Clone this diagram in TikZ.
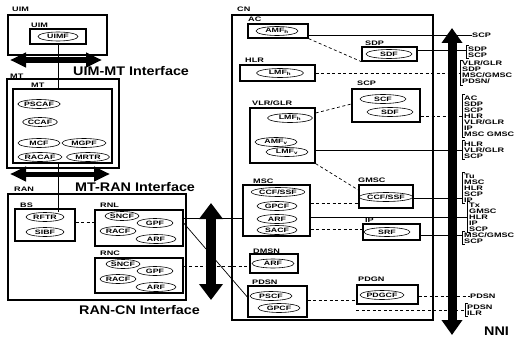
\documentclass[tikz,border=0pt]{standalone}
\usepackage{fontspec}
\newfontfamily\labf[FakeStretch=1.4]{Liberation Sans}
\newfontfamily\ifacef[FakeStretch=1.15]{Liberation Sans}
\usetikzlibrary{shapes.geometric,arrows.meta}
\newcommand\brk[1]{\draw[conn] ([xshift=3pt]#1.north west) -- (#1.north west) -- (#1.south west) -- ([xshift=3pt]#1.south west);}
\begin{document}
\begin{tikzpicture}[x=1pt,y=-1pt,
  lbl/.style={font=\labf\bfseries\fontsize{6.5}{6}\selectfont, inner sep=0pt, anchor=west},
  brl/.style={lbl, align=left, inner xsep=2pt, inner ysep=1pt},
  fn/.style={ellipse, draw, line width=0.6pt, minimum height=9pt, inner sep=0pt, font=\labf\bfseries\fontsize{6.3}{6}\selectfont},
  box/.style={draw, line width=1.3pt, inner sep=0pt, rectangle},
  outer/.style={draw, line width=2.5pt, inner sep=0pt, rectangle},
  conn/.style={line width=0.7pt},
  dconn/.style={line width=0.7pt, dash pattern=on 3pt off 2.5pt},
  iface/.style={font=\ifacef\bfseries\fontsize{12.5}{12}\selectfont, inner sep=0pt, anchor=west},
  harrow/.style={line width=5pt, {Triangle[length=16pt,width=14pt]}-{Triangle[length=16pt,width=14pt]}},
  varrow/.style={line width=10pt, {Triangle[length=16pt,width=23pt]}-{Triangle[length=16pt,width=23pt]}}
]
\fill[white] (0,0) rectangle (516,337);
\useasboundingbox (0,0) rectangle (516,337);

% ---------- UIM ----------
\node[outer, minimum width=99pt, minimum height=40pt] (UIMo) at (57.5,35) {};
\node[box, minimum width=56pt, minimum height=15pt] (UIMi) at (58,36.5) {};
\node[fn, minimum width=40pt] (UIMF) at (58,36.5) {UIMF};
\node[lbl] (lUIMo) at (12,9) {UIM};
\node[lbl] (lUIMi) at (31,25) {UIM};

% ---------- MT ----------
\node[outer, minimum width=112pt, minimum height=89pt] (MTo) at (63,123.5) {};
\node[box, minimum width=99pt, minimum height=74pt] (MTi) at (62.5,126) {};
\node[lbl] (lMTo) at (10,76) {MT};
\node[lbl] (lMTi) at (31,85) {MT};
\node[fn, minimum width=35pt] (PSCAF) at (39,104) {PSCAF};
\node[fn, minimum width=34pt] (CCAF) at (40,122) {CCAF};
\node[fn, minimum width=42pt] (MCF) at (39,143) {MCF};
\node[fn, minimum width=44pt] (MGPF) at (84,143) {MGPF};
\node[fn, minimum width=44pt] (RACAF) at (40,157) {RACAF};
\node[fn, minimum width=43pt] (MRTR) at (88,157) {MRTR};

% ---------- RAN ----------
\node[outer, minimum width=178pt, minimum height=106pt] (RANo) at (97,247) {};
\node[lbl] (lRAN) at (14,189) {RAN};
\node[box, minimum width=60pt, minimum height=32pt] (BS) at (45,225) {};
\node[lbl] (lBS) at (20,205) {BS};
\node[fn, minimum width=38pt] (RFTR) at (45,217) {RFTR};
\node[fn, minimum width=38pt] (SIBF) at (45,232) {SIBF};

\node[box, minimum width=88pt, minimum height=36pt] (RNL) at (139,228) {};
\node[lbl] (lRNL) at (100,205) {RNL};
\node[fn, minimum width=34pt] (SNCF1) at (122,216) {SNCF};
\node[fn, minimum width=36pt] (GPF1) at (155,223) {GPF};
\node[fn, minimum width=36pt] (RACF1) at (118,231) {RACF};
\node[fn, minimum width=40pt] (ARF1) at (156,239) {ARF};

\node[box, minimum width=88pt, minimum height=35pt] (RNC) at (139,275.5) {};
\node[lbl] (lRNC) at (100,253) {RNC};
\node[fn, minimum width=34pt] (SNCF2) at (123,264) {SNCF};
\node[fn, minimum width=36pt] (GPF2) at (155,271) {GPF};
\node[fn, minimum width=36pt] (RACF2) at (118,279) {RACF};
\node[fn, minimum width=40pt] (ARF2) at (156,287) {ARF};

% ---------- CN ----------
\node[outer, line width=2.6pt, minimum width=201pt, minimum height=305pt] (CN) at (332.5,167.5) {};
\node[lbl] (lCN) at (237,9) {CN};

\node[box, minimum width=60pt, minimum height=14pt] (AC) at (278,31) {};
\node[lbl] (lAC) at (248,19) {AC};
\node[fn, minimum width=42pt] (AMFh) at (277,31) {AMF\textsubscript{h}};

\node[box, minimum width=55pt, minimum height=14pt] (SDP) at (389.5,54) {};
\node[lbl] (lSDP) at (365,43) {SDP};
\node[fn, minimum width=46pt] (SDF1) at (389,54) {SDF};

\node[box, minimum width=75pt, minimum height=16pt] (HLR) at (277.5,73) {};
\node[lbl] (lHLR) at (245,60) {HLR};
\node[fn, minimum width=47pt] (LMFh) at (280,73) {LMF\textsubscript{h}};

\node[box, minimum width=68pt, minimum height=33pt] (SCP) at (386,105.5) {};
\node[lbl] (lSCP) at (357,83) {SCP};
\node[fn, minimum width=46pt] (SCF) at (383,99) {SCF};
\node[fn, minimum width=46pt] (SDF2) at (390,112) {SDF};

\node[box, minimum width=65pt, minimum height=55pt] (VLR) at (282.5,135.5) {};
\node[lbl] (lVLR) at (252,103) {VLR/GLR};
\node[fn, minimum width=45pt] (LMFg) at (290,118) {LMF\textsubscript{h}};
\node[fn, minimum width=42pt] (AMFv) at (276,142) {AMF\textsubscript{v}};
\node[fn, minimum width=42pt] (LMFv) at (287,152) {LMF\textsubscript{v}};

\node[box, minimum width=67pt, minimum height=51pt] (MSC) at (276.5,210.5) {};
\node[lbl] (lMSC) at (253,181) {MSC};
\node[fn, minimum width=52pt] (CCF1) at (278,192) {CCF/SSF};
\node[fn, minimum width=40pt] (GPCF1) at (277,206) {GPCF};
\node[fn, minimum width=40pt] (ARF3) at (277,219) {ARF};
\node[fn, minimum width=40pt] (SACF) at (277,230) {SACF};

\node[box, minimum width=54pt, minimum height=23pt] (GMSC) at (386,196.5) {};
\node[lbl] (lGMSC) at (358,180) {GMSC};
\node[fn, minimum width=48pt] (CCF2) at (386,197) {CCF/SSF};

\node[box, minimum width=57pt, minimum height=16pt] (IP) at (391.5,232) {};
\node[lbl] (lIP) at (365,220) {IP};
\node[fn, minimum width=46pt] (SRF) at (387,232) {SRF};

\node[box, minimum width=48pt, minimum height=19pt] (DMSN) at (274,263.5) {};
\node[lbl] (lDMSN) at (253,251) {DMSN};
\node[fn, minimum width=42pt] (ARF4) at (273,263.5) {ARF};

\node[box, minimum width=59pt, minimum height=31pt] (PDSN) at (277.5,301.5) {};
\node[lbl] (lPDSN) at (252,282) {PDSN};
\node[fn, minimum width=42pt] (PSCF) at (271,296) {PSCF};
\node[fn, minimum width=42pt] (GPCF2) at (279,308) {GPCF};

\node[box, minimum width=61pt, minimum height=19pt] (PDGN) at (387.5,294.5) {};
\node[lbl] (lPDGN) at (358,279) {PDGN};
\node[fn, minimum width=44pt] (PDGCF) at (382,295) {PDGCF};

% ---------- right-hand role lists ----------
\node[lbl] (b0) at (472,35) {SCP};
\node[brl] (b1) at (466,52) {SDP\\SCP};
\node[brl] (b2) at (460,72.5) {VLR/GLR\\SDP\\MSC/GMSC\\PDSN/};
\node[brl] (b3) at (462,116) {AC\\SDP\\SCP\\HLR\\VLR/GLR\\IP\\MSC GMSC};
\node[brl] (b4) at (462,150) {HLR\\VLR/GLR\\SCP};
\node[brl] (b5) at (462,188) {Tu\\MSC\\HLR\\SCP\\IP};
\node[brl] (b6) at (467,217) {Tx\\GMSC\\HLR\\IP\\SCP};
\node[brl] (b7) at (462,238) {MSC/GMSC\\SCP};
\node[lbl] (b8) at (470,296) {PDSN};
\node[brl] (b9) at (465,310) {PDSN\\ILR};
\brk{b1}\brk{b2}\brk{b3}\brk{b4}\brk{b5}\brk{b6}\brk{b7}\brk{b9}

% ---------- connectors ----------
\draw[conn] (UIMi.south) -- (UIMi.south |- MTi.north);
\draw[conn] (UIMi.south |- MTi.south) -- (UIMi.south |- RFTR.north);
\draw[dconn] (BS.east |- 0,222) -- (RNL.west |- 0,222);
\draw[conn] (RNL.east |- 0,218) -- (MSC.west |- 0,218);
\draw[conn] (RNL.east |- 0,223) -- (PDSN.west |- 0,297);
\draw[dconn] (RNC.east |- 0,266) -- (DMSN.west |- 0,266);

\draw[conn] (AC.east |- 0,35) -- (b0.west);
\draw[dconn] (AC.south east) -- (SDP.south west);
\draw[conn] (SDP.east |- 0,50) -- (b1.west |- 0,50);
\draw[dconn] (HLR.east |- 0,73) -- (b2.west |- 0,73);
\draw[dconn] (VLR.east |- 0,113) -- (SCP.west |- 0,104);
\draw[dconn] (SCP.east |- 0,116) -- (b3.west |- 0,116);
\draw[conn] (VLR.east |- 0,150) -- (b4.west |- 0,150);
\draw[dconn] (VLR.south east) -- (GMSC.west |- 0,190);
\draw[dconn] (MSC.east |- 0,203) -- (GMSC.west |- 0,203);
\draw[conn] (GMSC.east |- 0,198) -- (b5.west |- 0,198);
\draw[conn] (MSC.east |- 0,217) -- (b6.west |- 0,217);
\draw[dconn] (MSC.east |- 0,229) -- (IP.west |- 0,229);
\draw[conn] (IP.east |- 0,235) -- (b7.west |- 0,235);
\draw[dconn] (PDSN.east |- 0,300) -- (PDGN.west |- 0,300);
\draw[dconn] (PDGN.east |- 0,296) -- (b8.west);
\draw[dconn] (PDGN.south west |- 0,310) -- (b9.west |- 0,310);

% ---------- interface arrows ----------
\coordinate (a1l) at (10,60); \coordinate (a1r) at (102,60);
\coordinate (a2l) at (10,174); \coordinate (a2r) at (110,174);
\coordinate (a3t) at (211,203); \coordinate (a3b) at (211,300);
\coordinate (a4t) at (452,28); \coordinate (a4b) at (452,335);
\draw[harrow] (a1l) -- (a1r);
\draw[harrow] (a2l) -- (a2r);
\draw[varrow] (a3t) -- (a3b);
\draw[varrow, line width=9pt, {Triangle[length=15pt,width=20pt]}-{Triangle[length=15pt,width=20pt]}] (a4t) -- (a4b);

\node[iface] (tUM) at (73,71) {UIM-MT Interface};
\node[iface] (tMR) at (75,187) {MT-RAN Interface};
\node[iface] (tRC) at (79,310) {RAN-CN Interface};
\node[iface] (tNNI) at (484,331) {NNI};
\end{tikzpicture}
\end{document}
